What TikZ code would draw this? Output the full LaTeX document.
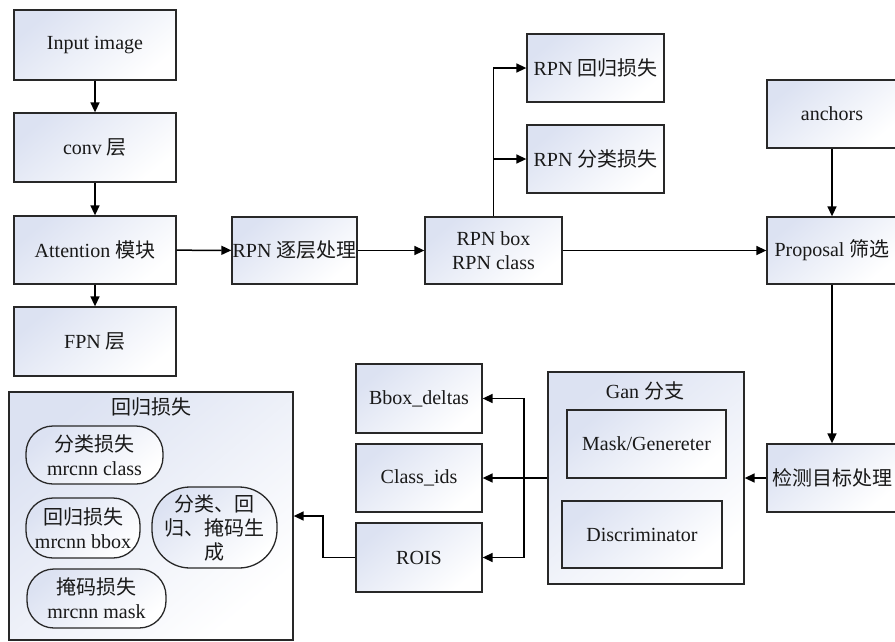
\documentclass[tikz,border=0pt]{standalone}
\usepackage{fontspec}
\setmainfont{Liberation Serif}
\newfontfamily\cjk{Noto Sans CJK SC}
\usetikzlibrary{arrows.meta}
\definecolor{shadeblue}{RGB}{220,226,242}
\definecolor{linec}{RGB}{40,40,40}
\begin{document}
\begin{tikzpicture}[x=1pt,y=-1pt,
  every node/.style={font=\fontsize{20}{24}\selectfont, text=black!90, align=center, inner sep=0pt},
  box/.style={draw=linec, line width=1.3pt, rectangle, top color=shadeblue, bottom color=white, shading angle=40},
  pill/.style={box, rounded corners=27pt},
  conn/.style={draw=black, line width=1.5pt, -{Triangle[length=10pt,width=9pt]}},
  plain/.style={draw=black, line width=1.5pt}]
\useasboundingbox (0,0) rectangle (895,641);

% left column
\node[box, minimum width=162pt, minimum height=70pt] (input) at (95,45) {Input image};
\node[box, minimum width=162pt, minimum height=69pt] (conv) at (95,147.5) {conv {\cjk 层}};
\node[box, minimum width=162pt, minimum height=68pt] (attn) at (95,250) {Attention {\cjk 模块}};
\node[box, minimum width=162pt, minimum height=69pt] (fpn) at (95,341.5) {FPN {\cjk 层}};

% RPN row
\node[box, minimum width=125pt, minimum height=67pt] (rpnl) at (294.5,250.5) {RPN {\cjk 逐层处理}};
\node[box, minimum width=137pt, minimum height=67pt] (rpnb) at (493.5,250.5) {RPN box\\RPN class};
\node[box, minimum width=137pt, minimum height=68pt] (rpnreg) at (595.5,68) {RPN {\cjk 回归损失}};
\node[box, minimum width=137pt, minimum height=68pt] (rpncls) at (595.5,159) {RPN {\cjk 分类损失}};

% right column
\node[box, minimum width=130pt, minimum height=68pt] (anchors) at (832,114) {anchors};
\node[box, minimum width=130pt, minimum height=67pt] (proposal) at (832,250.5) {Proposal {\cjk 筛选}};
\node[box, minimum width=130pt, minimum height=68pt] (detect) at (832,478) {{\cjk 检测目标处理}};

% Gan branch
\node[box, minimum width=196pt, minimum height=212pt] (gan) at (646,478) {};
\node (gantitle) at (645,391) {Gan {\cjk 分支}};
\node[box, minimum width=159pt, minimum height=68pt] (mask) at (646.5,444) {Mask/Genereter};
\node[box, minimum width=160pt, minimum height=67pt] (disc) at (642,534.5) {Discriminator};

% outputs
\node[box, minimum width=126pt, minimum height=69pt] (bbox) at (419,398.5) {Bbox\_deltas};
\node[box, minimum width=126pt, minimum height=68pt] (classids) at (419,478) {Class\_ids};
\node[box, minimum width=126pt, minimum height=69pt] (rois) at (419,557.5) {ROIS};

% loss group
\node[box, minimum width=284pt, minimum height=248pt] (loss) at (151,516) {};
\node (losstitle) at (151,407) {{\cjk 回归损失}};
\node[pill, minimum width=137pt, minimum height=58pt] (e1) at (94.5,455) {{\cjk 分类损失}\\mrcnn class};
\node[pill, minimum width=114pt, minimum height=60pt] (e2) at (83,528) {{\cjk 回归损失}\\mrcnn bbox};
\node[pill, rounded corners=38pt, minimum width=125pt, minimum height=81pt] (e3) at (214.5,527.5) {{\cjk 分类、回}\\{\cjk 归、掩码生}\\{\cjk 成}};
\node[pill, minimum width=139pt, minimum height=59pt] (e4) at (96.5,598.5) {{\cjk 掩码损失}\\mrcnn mask};

% connectors
\draw[conn] (input) -- (conv);
\draw[conn] (conv) -- (attn);
\draw[conn] (attn) -- (fpn);
\draw[conn] (attn) -- (rpnl);
\draw[conn] (rpnl) -- (rpnb);
\draw[conn] (rpnb.north) |- (rpnreg.west);
\draw[conn] (rpnb.north) |- (rpncls.west);
\draw[conn] (rpnb) -- (proposal);
\draw[conn] (anchors) -- (proposal);
\draw[conn] (proposal) -- (detect);
\draw[conn] (detect) -- (gan);
\coordinate (br) at (524,478);
\draw[plain] (gan.west) -- (br);
\draw[conn] (br) |- (bbox.east);
\draw[conn] (br) -- (classids.east);
\draw[conn] (br) |- (rois.east);
\coordinate (c1) at (323,557.5);
\draw[plain] (rois.west) -- (c1);
\draw[conn] (c1) |- (loss.east);
\end{tikzpicture}
\end{document}
